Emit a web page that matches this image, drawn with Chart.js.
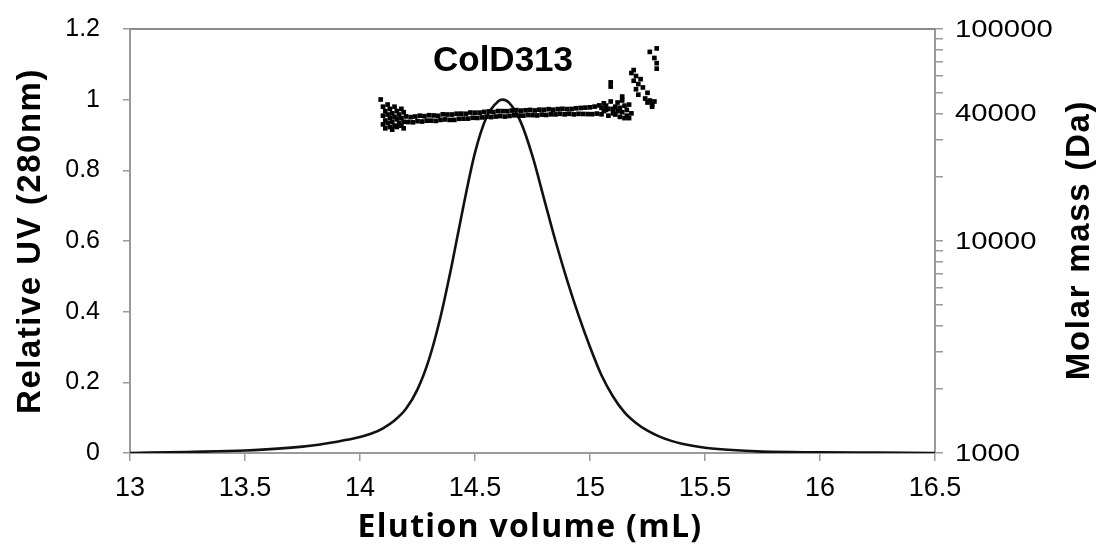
<!DOCTYPE html>
<html>
<head>
<meta charset="utf-8">
<script src="https://cdn.jsdelivr.net/npm/chart.js@4/dist/chart.umd.min.js"></script>
<style>
  html, body { margin: 0; padding: 0; background: #fff; }
</style>
</head>
<body>
<canvas id="chart" width="1104" height="552"></canvas>
<script>
// UV trace (relative absorbance at 280 nm vs elution volume)
const uvVolume = [13.0, 13.25, 13.5, 13.75, 13.9, 14.0, 14.05, 14.1, 14.15, 14.2, 14.25, 14.3, 14.35, 14.4, 14.45, 14.5, 14.55, 14.6, 14.62, 14.65, 14.7, 14.75, 14.8, 14.85, 14.9, 14.95, 15.0, 15.05, 15.1, 15.15, 15.2, 15.25, 15.3, 15.35, 15.4, 15.5, 15.6, 15.75, 16.0, 16.25, 16.5];
const uvRelative = [0.0, 0.003, 0.007, 0.018, 0.032, 0.045, 0.055, 0.07, 0.092, 0.125, 0.18, 0.265, 0.385, 0.535, 0.70, 0.85, 0.95, 0.995, 1.0, 0.99, 0.935, 0.84, 0.72, 0.60, 0.49, 0.39, 0.30, 0.22, 0.16, 0.115, 0.085, 0.063, 0.047, 0.035, 0.026, 0.015, 0.009, 0.004, 0.002, 0.001, 0.0];

// MALS molar mass points (Da)
const mwVolume = [
  14.09, 14.10, 14.10, 14.10, 14.11, 14.11, 14.11, 14.12, 14.12, 14.12,
  14.13, 14.13, 14.13, 14.14, 14.14, 14.14, 14.15, 14.15, 14.15, 14.16,
  14.16, 14.16, 14.17, 14.17, 14.18, 14.18, 14.18, 14.19, 14.19, 14.19,
  14.20, 14.21, 14.22, 14.23, 14.24, 14.25, 14.26, 14.27, 14.28, 14.29,
  14.30, 14.31, 14.32, 14.33, 14.34, 14.35, 14.36, 14.37, 14.38, 14.39,
  14.40, 14.41, 14.42, 14.43, 14.44, 14.45, 14.46, 14.47, 14.48, 14.49,
  14.50, 14.51, 14.52, 14.53, 14.54, 14.55, 14.56, 14.57, 14.58, 14.59,
  14.60, 14.61, 14.62, 14.63, 14.64, 14.65, 14.66, 14.67, 14.68, 14.69,
  14.70, 14.71, 14.72, 14.73, 14.74, 14.75, 14.76, 14.77, 14.78, 14.79,
  14.80, 14.81, 14.82, 14.83, 14.84, 14.85, 14.86, 14.87, 14.88, 14.89,
  14.90, 14.91, 14.92, 14.93, 14.94, 14.95, 14.96, 14.97, 14.98, 14.99,
  15.00, 15.01, 15.02, 15.03, 15.04,
  15.05, 15.05, 15.06, 15.06, 15.07, 15.07, 15.08, 15.08, 15.09, 15.09,
  15.09, 15.10, 15.10, 15.11, 15.11, 15.12, 15.12, 15.13, 15.13, 15.14,
  15.14, 15.14, 15.15, 15.15, 15.16, 15.16, 15.17, 15.17, 15.18, 15.18,
  15.19, 15.19, 15.20, 15.20, 15.21, 15.21, 15.22, 15.23, 15.24, 15.25,
  15.25, 15.26, 15.27, 15.27, 15.28, 15.26, 15.28, 15.29, 15.29, 15.29
];
const mwMass = [
  46500, 43000, 39000, 35500, 41000, 37000, 34000, 44000, 39500, 36000,
  42000, 38000, 34500, 40000, 36500, 33500, 43000, 38500, 35000, 41000,
  37500, 34500, 39500, 36000, 42000, 38000, 35000, 40500, 36500, 34000,
  38700, 36400, 38400, 36300, 38650, 36750, 39000, 36600, 38800, 36950,
  39200, 36950, 39100, 36850, 38950, 37250, 39600, 37450, 39500, 37250,
  39500, 37270, 39840, 37710, 39880, 37750, 39820, 37790, 40360, 38130,
  40300, 38060, 40320, 38280, 40640, 38600, 40860, 38420, 40580, 38640,
  41000, 38840, 40980, 38620, 40960, 38900, 41240, 39180, 41420, 39060,
  41200, 39030, 41360, 39290, 41520, 39250, 41280, 39110, 41640, 39470,
  41600, 39330, 41860, 39590, 41620, 39550, 41880, 39810, 42040, 39570,
  41900, 39820, 41960, 39560, 42280, 39800, 42420, 39740, 42580, 39690,
  42700, 39650, 43050, 39900, 43600,
  39600, 42500, 44600, 41000, 41500, 43500, 39000, 42000, 45500, 56000,
  53500, 42000, 40000, 43000, 39500, 41000, 45000, 38500, 42500, 48000,
  46000, 40500, 38000, 43500, 39000, 41500, 38000, 44000, 40000, 62000,
  64000, 57000, 60000, 52000, 55000, 49000, 58000, 53000, 47000, 50000,
  45000, 46000, 44000, 43000, 45500, 78000, 73000, 81000, 69000, 65000
];

// axis ticks
const volumeTicks = [13, 13.5, 14, 14.5, 15, 15.5, 16, 16.5];
const uvTicks = [0, 0.2, 0.4, 0.6, 0.8, 1, 1.2];
const uvTickLabels = ['0', '0.2', '0.4', '0.6', '0.8', '1', '1.2'];
const massTicks = [1000, 2000, 3000, 4000, 5000, 6000, 7000, 8000, 9000, 10000, 20000, 30000, 40000, 50000, 60000, 70000, 80000, 90000, 100000];
const massTickLabels = ['1000', '10000', '40000', '100000'];

const chartTitle = 'ColD313';
const xTitle = 'Elution volume (mL)';
const yTitle = 'Relative UV (280nm)';
const y2Title = 'Molar mass (Da)';

const sans = '"Liberation Sans", Arial, sans-serif';
const axisGrey = '#9a9a9a';

const decor = {
  id: 'decor',
  afterDraw(chart) {
    const { ctx, chartArea: a } = chart;
    ctx.save();
    // top frame line
    ctx.strokeStyle = '#8a8a8a';
    ctx.lineWidth = 2;
    ctx.beginPath();
    ctx.moveTo(a.left, a.top);
    ctx.lineTo(a.right, a.top);
    ctx.stroke();

    ctx.fillStyle = '#000';
    ctx.textBaseline = 'middle';

    // right axis labels (wide in the original)
    const y2 = chart.scales.y2;
    ctx.textAlign = 'left';
    ctx.font = '24px ' + sans;
    massTickLabels.forEach(lbl => {
      ctx.save();
      ctx.translate(a.right + 20, y2.getPixelForValue(Number(lbl)));
      ctx.scale(1.22, 1);
      ctx.fillText(lbl, 0, 1);
      ctx.restore();
    });

    ctx.textAlign = 'center';
    ctx.font = 'bold 35px ' + sans;
    ctx.fillText(chartTitle, 503, 61);

    ctx.font = 'bold 32px "Open Sans", Lato, sans-serif';
    ctx.letterSpacing = '1.3px';
    ctx.fillText(xTitle, 530, 528);

    ctx.font = 'bold 33px ' + sans;
    ctx.letterSpacing = '1.5px';
    ctx.save();
    ctx.translate(31, 241);
    ctx.rotate(-Math.PI / 2);
    ctx.fillText(yTitle, 0, 0);
    ctx.restore();

    ctx.letterSpacing = '1.7px';
    ctx.save();
    ctx.translate(1080, 240);
    ctx.rotate(-Math.PI / 2);
    ctx.fillText(y2Title, 0, 0);
    ctx.restore();
    ctx.restore();
  }
};

const ctx = document.getElementById('chart').getContext('2d');
new Chart(ctx, {
  type: 'scatter',
  data: {
    datasets: [{
      label: 'Molar mass',
      data: mwVolume.map((v, i) => ({ x: v, y: mwMass[i] })),
      yAxisID: 'y2',
      pointStyle: 'rect',
      pointRadius: 3.3,
      pointBackgroundColor: '#000',
      pointBorderColor: '#000',
      borderWidth: 0,
      showLine: false
    }, {
      label: 'UV',
      data: uvVolume.map((v, i) => ({ x: v, y: uvRelative[i] })),
      yAxisID: 'y',
      showLine: true,
      borderColor: '#111',
      borderWidth: 2.6,
      pointRadius: 0,
      cubicInterpolationMode: 'monotone',
      fill: false
    }]
  },
  options: {
    responsive: false,
    animation: false,
    devicePixelRatio: 1,
    layout: { padding: { top: 29, left: 0, right: 0, bottom: 0 } },
    plugins: {
      legend: { display: false },
      tooltip: { enabled: false },
      title: { display: false }
    },
    scales: {
      x: {
        type: 'linear',
        min: 13,
        max: 16.5,
        afterBuildTicks: s => { s.ticks = volumeTicks.map(v => ({ value: v })); },
        afterFit: s => { s.height = 99; },
        ticks: { font: { family: sans, size: 27 }, color: '#000', padding: 11, maxRotation: 0, autoSkip: false, callback: v => String(v) },
        grid: { drawOnChartArea: false, drawTicks: true, tickLength: 8, color: axisGrey, lineWidth: 1.5 },
        border: { color: axisGrey, width: 2 }
      },
      y: {
        type: 'linear',
        position: 'left',
        min: 0,
        max: 1.2,
        afterBuildTicks: s => { s.ticks = uvTicks.map(v => ({ value: v })); },
        afterFit: s => { s.width = 130; s.paddingTop = 0; s.paddingBottom = 0; },
        ticks: { font: { family: sans, size: 25 }, color: '#000', padding: 23, autoSkip: false, callback: (v, i) => uvTickLabels[i] },
        grid: { drawOnChartArea: false, drawTicks: true, tickLength: 7, color: axisGrey, lineWidth: 1.5 },
        border: { color: axisGrey, width: 2 }
      },
      y2: {
        type: 'logarithmic',
        position: 'right',
        min: 1000,
        max: 100000,
        afterBuildTicks: s => { s.ticks = massTicks.map(v => ({ value: v })); },
        afterFit: s => { s.width = 169; s.paddingTop = 0; s.paddingBottom = 0; },
        ticks: { display: false },
        grid: { drawOnChartArea: false, drawTicks: true, tickLength: 8, color: axisGrey, lineWidth: 1.5 },
        border: { color: axisGrey, width: 2 }
      }
    }
  },
  plugins: [decor]
});
</script>
</body>
</html>
